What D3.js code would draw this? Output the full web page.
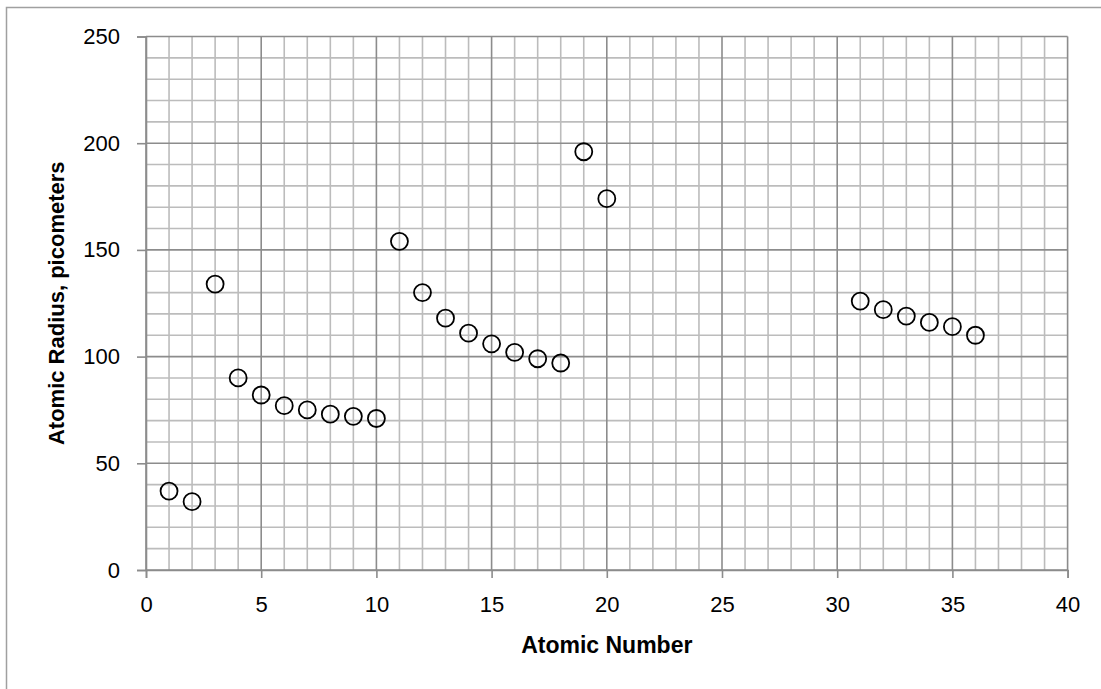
<!DOCTYPE html>
<html><head><meta charset="utf-8">
<script src="https://cdn.jsdelivr.net/npm/d3@7"></script>
<style>html,body{margin:0;padding:0;background:#fff;overflow:hidden}</style>
</head><body>
<svg id="chart" width="1101" height="689"></svg>
<script>
const atomicNumbers = [1,2,3,4,5,6,7,8,9,10,11,12,13,14,15,16,17,18,19,20,31,32,33,34,35,36];
const atomicRadii   = [37,32,134,90,82,77,75,73,72,71,154,130,118,111,106,102,99,97,196,174,126,122,119,116,114,110];
const xTicks = [0,5,10,15,20,25,30,35,40];
const yTicks = [0,50,100,150,200,250];
const xTitle = "Atomic Number";
const yTitle = "Atomic Radius, picometers";

const svg = d3.select("#chart");
const font = "'Liberation Sans', Arial, sans-serif";
const L = 146, R = 1067.6, T = 36.5, B = 570;
const x = d3.scaleLinear().domain([0,40]).range([L,R]);
const y = d3.scaleLinear().domain([0,250]).range([B,T]);

// outer frame
svg.append("rect").attr("x",6.5).attr("y",7.5).attr("width",1200).attr("height",800)
  .attr("fill","none").attr("stroke","#a0a0a0").attr("stroke-width",1.5);

const g = svg.append("g");
// minor grid
const minorX = d3.range(0,41,1).filter(v=>v%5!==0);
const minorY = d3.range(0,251,10).filter(v=>v%50!==0);
g.selectAll(".mx").data(minorX).join("line")
  .attr("x1",d=>x(d)).attr("x2",d=>x(d)).attr("y1",T).attr("y2",B)
  .attr("stroke","#bcbcbc").attr("stroke-width",1.6);
g.selectAll(".my").data(minorY).join("line")
  .attr("y1",d=>y(d)).attr("y2",d=>y(d)).attr("x1",L).attr("x2",R)
  .attr("stroke","#bcbcbc").attr("stroke-width",1.6);
// major grid
g.selectAll(".Mx").data(xTicks).join("line")
  .attr("x1",d=>x(d)).attr("x2",d=>x(d)).attr("y1",T).attr("y2",B)
  .attr("stroke","#8c8c8c").attr("stroke-width",1.6);
g.selectAll(".My").data(yTicks).join("line")
  .attr("y1",d=>y(d)).attr("y2",d=>y(d)).attr("x1",L).attr("x2",R)
  .attr("stroke","#8c8c8c").attr("stroke-width",1.6);

// axes
const xAxis = d3.axisBottom(x).tickValues(xTicks).tickSize(8).tickPadding(18).tickFormat(d3.format("d"));
const yAxis = d3.axisLeft(y).tickValues(yTicks).tickSize(9).tickPadding(17).tickFormat(d3.format("d"));
const gx = svg.append("g").attr("transform",`translate(0,${B})`).call(xAxis);
const gy = svg.append("g").attr("transform",`translate(${L},0)`).call(yAxis);
[gx,gy].forEach(a=>{
  a.select(".domain").attr("stroke","#8c8c8c").attr("stroke-width",1.6);
  a.selectAll(".tick line").attr("stroke","#8c8c8c").attr("stroke-width",1.6);
  a.selectAll(".tick text").attr("fill","#000").style("font-family",font).style("font-size","22px");
});

// points
svg.append("g").selectAll("circle").data(atomicNumbers.map((n,i)=>({n, r:atomicRadii[i]})))
  .join("circle")
  .attr("cx",d=>x(d.n)).attr("cy",d=>y(d.r)).attr("r",8.5)
  .attr("fill","none").attr("stroke","#000").attr("stroke-width",1.8);

// titles
svg.append("text").attr("x",(L+R)/2).attr("y",653).attr("text-anchor","middle")
  .style("font-family",font).style("font-size","23px").style("font-weight","bold").text(xTitle);
svg.append("text").attr("transform",`translate(64,${(T+B)/2}) rotate(-90)`).attr("text-anchor","middle")
  .style("font-family",font).style("font-size","22px").style("font-weight","bold").text(yTitle);
</script>
</body></html>
